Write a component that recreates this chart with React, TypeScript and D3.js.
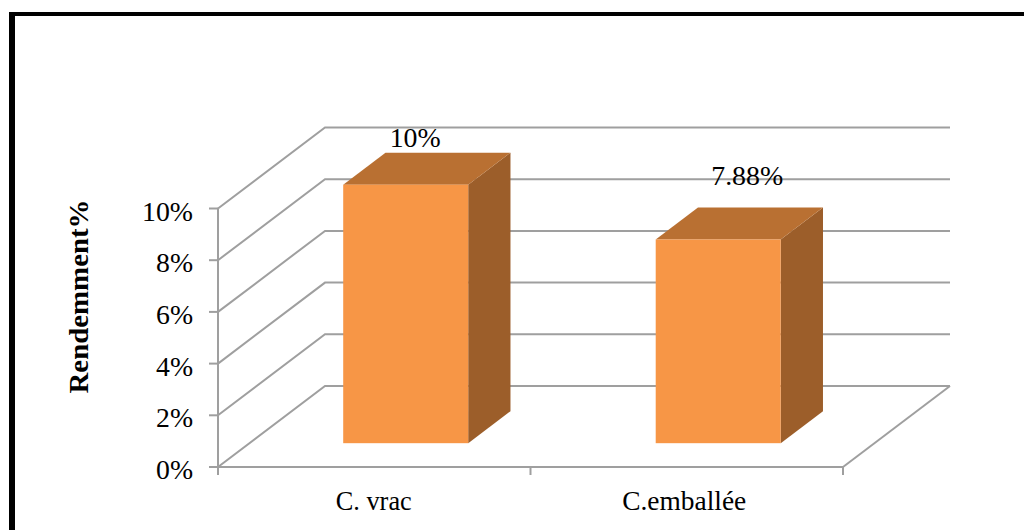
import React from "react";
import * as d3 from "d3";

// Yield per packaging type
const categories = ["C. vrac", "C.emballée"];
const values = [10, 7.88];
const valueLabels = ["10%", "7.88%"];
const yTicks = [0, 2, 4, 6, 8, 10];

const WIDTH = 1024;
const HEIGHT = 530;
const FONT = "'Liberation Serif', serif";
const GRID = "#9f9f9f";

// Front plane of the chart box and the offset to its back plane
const xBand = d3.scaleBand<string>().domain(categories).range([218, 843]);
const y = d3.scaleLinear().domain([0, 10]).range([467, 208.5]);
const depthX = d3.scaleLinear().domain([0, 1]).range([0, 107]);
const depthY = d3.scaleLinear().domain([0, 1]).range([0, -81]);

// Bars stand partway into the box and occupy a fixed share of its depth
const BAR_WIDTH = 125;
const BAR_NEAR = 0.294;
const BAR_FAR = 0.689;

// Manual placement of the value labels relative to the bar front top
const labelOffsets = [
  { dx: 9.5, dy: -38 },
  { dx: 29, dy: -54 },
];

const pts = (p: [number, number][]) => p.map((d) => d.join(",")).join(" ");

export default function App() {
  const d1x = depthX(1);
  const d1y = depthY(1);
  const nearX = depthX(BAR_NEAR);
  const nearY = depthY(BAR_NEAR);
  const dx = depthX(BAR_FAR) - nearX;
  const dy = depthY(BAR_FAR) - nearY;
  const [x0, x1] = xBand.range();

  return (
    <svg
      width={WIDTH}
      height={HEIGHT}
      style={{ position: "fixed", left: 0, top: 0, background: "#fff" }}
      fontFamily={FONT}
    >
      {/* Page frame, open at the right and bottom edges */}
      <rect x={9} y={12} width={1015} height={4} fill="#000" />
      <rect x={9} y={12} width={6} height={518} fill="#000" />

      {/* Walls: side diagonals and back gridlines */}
      {yTicks.map((t) => (
        <g key={t} stroke={GRID} strokeWidth={2} fill="none">
          <polyline
            points={pts([
              [x0, y(t)],
              [x0 + d1x, y(t) + d1y],
              [x1 + d1x, y(t) + d1y],
            ])}
          />
          <line x1={x0 - 9} x2={x0} y1={y(t)} y2={y(t)} />
        </g>
      ))}

      {/* Floor front edge, right edge, and axis line */}
      <g stroke={GRID} strokeWidth={2} fill="none">
        <line x1={x0} x2={x1} y1={y(0)} y2={y(0)} />
        <line x1={x1} x2={x1 + d1x} y1={y(0)} y2={y(0) + d1y} />
        <line x1={x0} x2={x0} y1={y(10)} y2={y(0) + 8} />
        {[...categories.map((c) => xBand(c) as number), x1].map((x) => (
          <line key={x} x1={x} x2={x} y1={y(0)} y2={y(0) + 8} />
        ))}
      </g>

      {/* Y tick labels */}
      {yTicks.map((t) => (
        <text
          key={t}
          x={193}
          y={y(t) + 12}
          textAnchor="end"
          fontSize={28}
          fill="#000"
          textLength={t === 10 ? 51 : 37}
          lengthAdjust="spacingAndGlyphs"
        >
          {t}%
        </text>
      ))}

      {/* Y axis title */}
      <text
        transform="translate(88,296.5) rotate(-90)"
        textAnchor="middle"
        fontSize={27}
        fontWeight="bold"
        fill="#000"
        textLength={194}
        lengthAdjust="spacingAndGlyphs"
      >
        Rendemment%
      </text>

      {/* 3D bars */}
      {categories.map((c, i) => {
        const left = (xBand(c) as number) + (xBand.bandwidth() - BAR_WIDTH) / 2 + nearX;
        const right = left + BAR_WIDTH;
        const top = y(values[i]) + nearY;
        const bottom = y(0) + nearY;
        return (
          <g key={c}>
            <polygon
              fill="#9c5e2a"
              points={pts([
                [right, top],
                [right + dx, top + dy],
                [right + dx, bottom + dy],
                [right, bottom],
              ])}
            />
            <polygon
              fill="#b97032"
              points={pts([
                [left, top],
                [left + dx, top + dy],
                [right + dx, top + dy],
                [right, top],
              ])}
            />
            <rect x={left} y={top} width={BAR_WIDTH} height={bottom - top} fill="#f79646" />
          </g>
        );
      })}

      {/* Value labels */}
      {categories.map((c, i) => {
        const left = (xBand(c) as number) + (xBand.bandwidth() - BAR_WIDTH) / 2 + nearX;
        return (
          <text
            key={c}
            x={left + BAR_WIDTH / 2 + labelOffsets[i].dx}
            y={y(values[i]) + nearY + labelOffsets[i].dy}
            textAnchor="middle"
            fontSize={28}
            fill="#000"
            textLength={i === 0 ? 51 : 72}
            lengthAdjust="spacingAndGlyphs"
          >
            {valueLabels[i]}
          </text>
        );
      })}

      {/* Category labels */}
      {categories.map((c, i) => (
        <text
          key={c}
          x={(xBand(c) as number) + xBand.bandwidth() / 2 + (i === 0 ? -0.5 : -2.5)}
          y={510}
          textAnchor="middle"
          fontSize={28}
          fill="#000"
          textLength={i === 0 ? 76 : 124}
          lengthAdjust="spacingAndGlyphs"
        >
          {c}
        </text>
      ))}
    </svg>
  );
}
